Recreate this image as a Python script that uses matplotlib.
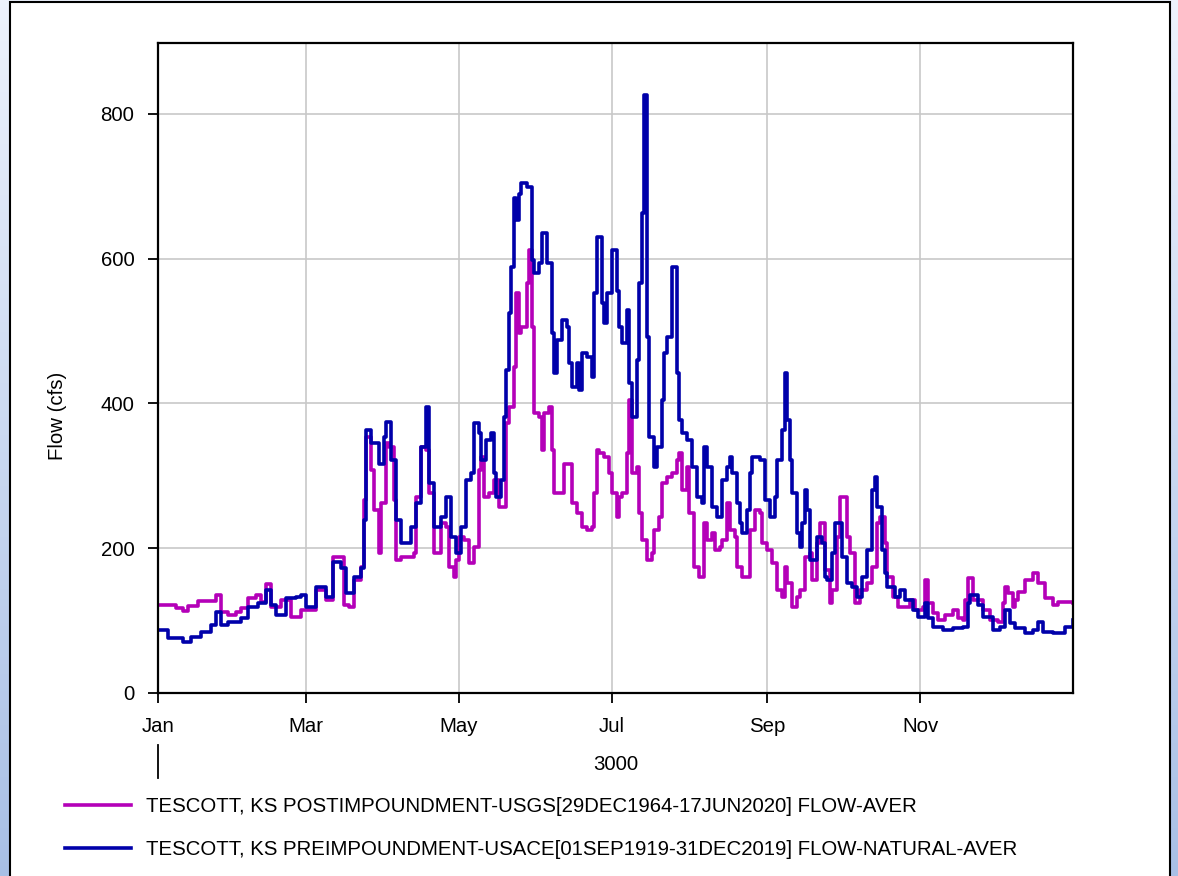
import datetime as dt
import numpy as np
import matplotlib
matplotlib.use("Agg")
import matplotlib.pyplot as plt
import matplotlib.dates as mdates
from matplotlib.patches import Rectangle
from matplotlib.lines import Line2D

plt.rcParams['font.family'] = ['Liberation Sans', 'DejaVu Sans']

# daily average flow, stored as (day of year, cfs) change points
post_days = [0, 4, 7, 10, 12, 16, 20, 23, 25, 28, 31, 33, 36, 39, 41, 43, 45, 49, 53, 57,
             63, 67, 70, 74, 76, 78, 81, 82, 83, 85, 86, 88, 89, 91, 92, 94, 95, 97, 102, 103,
             105, 107, 108, 110, 113, 115, 116, 118, 119, 120, 122, 124, 126, 128, 129, 130, 132, 134, 136, 139,
             140, 142, 143, 144, 145, 147, 148, 149, 150, 152, 153, 154, 156, 157, 158, 162, 165, 167, 169, 171,
             173, 174, 175, 176, 178, 180, 181, 183, 184, 185, 187, 188, 189, 191, 192, 193, 195, 197, 198, 200,
             201, 203, 205, 207, 208, 209, 211, 212, 214, 216, 218, 219, 221, 222, 224, 225, 227, 228, 230, 231,
             233, 236, 238, 240, 241, 243, 245, 247, 249, 250, 251, 253, 255, 256, 258, 260, 261, 263, 264, 266,
             268, 269, 271, 272, 275, 276, 278, 280, 283, 285, 287, 288, 290, 291, 293, 295, 300, 302, 305, 306,
             307, 309, 311, 314, 317, 319, 321, 322, 323, 325, 329, 332, 335, 337, 338, 339, 341, 342, 343, 346,
             349, 351, 354, 357, 359, 365]
post_flow = [122, 121, 117, 113, 120, 127, 127, 135, 112, 108, 112, 117, 131, 135, 126, 150, 119, 128, 105, 115,
             142, 128, 188, 122, 119, 156, 174, 267, 354, 308, 253, 193, 262, 345, 340, 267, 184, 188, 193, 271,
             340, 336, 276, 193, 235, 230, 174, 160, 184, 215, 211, 180, 202, 308, 326, 271, 276, 294, 257, 373,
             395, 450, 552, 497, 506, 566, 612, 506, 387, 381, 336, 387, 395, 336, 276, 317, 262, 248, 230, 225,
             230, 276, 336, 331, 326, 304, 276, 243, 271, 276, 331, 405, 304, 312, 248, 211, 184, 193, 225, 243,
             290, 298, 304, 322, 331, 280, 312, 248, 174, 160, 235, 211, 221, 197, 202, 211, 262, 225, 215, 174,
             160, 225, 253, 248, 207, 197, 180, 142, 133, 174, 152, 119, 133, 142, 188, 193, 156, 207, 235, 170,
             124, 142, 215, 271, 215, 193, 124, 142, 152, 174, 235, 243, 207, 160, 133, 119, 128, 115, 119, 156,
             124, 110, 101, 108, 115, 104, 101, 128, 159, 128, 115, 101, 98, 124, 146, 138, 119, 128, 140, 156,
             166, 152, 131, 122, 126, 124]

pre_days = [0, 4, 10, 13, 17, 21, 23, 25, 28, 33, 36, 40, 43, 45, 47, 51, 55, 57, 59, 63,
            67, 70, 73, 75, 78, 81, 82, 83, 85, 88, 90, 91, 93, 95, 97, 101, 103, 105, 107, 108,
            110, 113, 115, 117, 119, 121, 123, 125, 126, 128, 129, 131, 133, 134, 135, 137, 138, 139, 140, 141,
            142, 143, 144, 145, 147, 149, 150, 152, 153, 155, 157, 158, 159, 161, 163, 164, 165, 167, 168, 169,
            171, 173, 174, 175, 177, 178, 179, 181, 183, 184, 185, 187, 188, 189, 191, 192, 193, 194, 195, 196,
            198, 199, 201, 202, 203, 205, 207, 208, 209, 211, 213, 215, 217, 218, 219, 221, 223, 225, 227, 228,
            229, 231, 232, 233, 235, 236, 237, 240, 242, 244, 246, 247, 249, 250, 251, 252, 253, 255, 256, 257,
            258, 259, 260, 263, 265, 266, 267, 269, 270, 273, 275, 277, 279, 281, 283, 285, 286, 287, 289, 290,
            291, 294, 296, 298, 301, 303, 306, 307, 309, 313, 317, 321, 323, 324, 327, 329, 333, 336, 338, 340,
            342, 346, 349, 351, 353, 357, 362, 365]
pre_flow = [87, 76, 70, 77, 84, 94, 112, 94, 98, 103, 119, 124, 142, 122, 108, 131, 133, 135, 119, 146,
            133, 181, 173, 138, 160, 173, 239, 363, 345, 317, 354, 374, 322, 239, 207, 230, 262, 340, 395, 290,
            230, 243, 271, 215, 193, 230, 294, 304, 373, 359, 322, 349, 359, 304, 271, 294, 381, 446, 525, 588,
            684, 653, 690, 704, 699, 598, 580, 594, 635, 594, 497, 442, 488, 515, 506, 456, 423, 456, 418, 470,
            464, 437, 552, 630, 539, 511, 552, 612, 556, 506, 483, 529, 428, 381, 460, 566, 663, 826, 492, 354,
            312, 340, 405, 470, 492, 588, 442, 377, 359, 349, 312, 271, 262, 340, 312, 257, 243, 294, 312, 326,
            304, 262, 235, 221, 253, 304, 326, 322, 267, 243, 271, 322, 363, 442, 377, 322, 276, 221, 202, 235,
            280, 253, 184, 215, 207, 160, 156, 193, 235, 188, 152, 146, 133, 160, 197, 280, 298, 257, 197, 166,
            146, 133, 142, 128, 115, 105, 124, 104, 91, 87, 90, 91, 124, 135, 122, 105, 87, 91, 115, 97,
            90, 83, 87, 98, 84, 83, 91, 101]

post_label = "TESCOTT, KS POSTIMPOUNDMENT-USGS[29DEC1964-17JUN2020] FLOW-AVER"
pre_label = "TESCOTT, KS PREIMPOUNDMENT-USACE[01SEP1919-31DEC2019] FLOW-NATURAL-AVER"
tick_months = [1, 3, 5, 7, 9, 11]
y_ticks = [0, 200, 400, 600, 800]

start = dt.datetime(3000, 1, 1)
end = dt.datetime(3001, 1, 1)
post_dates = [start + dt.timedelta(days=d) for d in post_days]
pre_dates = [start + dt.timedelta(days=d) for d in pre_days]

fs = 14.7
fig = plt.figure(figsize=(11.78, 8.76), dpi=100)

# pale blue window backdrop behind the white panel
bg = fig.add_axes([0, 0, 1, 1], zorder=-10)
grad = np.linspace(0, 1, 256)[:, None]
top_c = np.array([0.93, 0.95, 0.99])
bot_c = np.array([0.66, 0.75, 0.90])
bg.imshow(top_c + (bot_c - top_c) * grad[:, :, None], aspect='auto', extent=[0, 1, 0, 1])
bg.axis('off')
fig.add_artist(Rectangle((10 / 1178, -0.02), 1160 / 1178, 1.02 - 2 / 876,
                         transform=fig.transFigure, facecolor='white', edgecolor='black',
                         linewidth=1.5, zorder=-5))

ax = fig.add_axes([158 / 1178, 1 - 693 / 876, 915 / 1178, 650 / 876])
ax.plot(post_dates, post_flow, drawstyle='steps-post', color='#b400b8', lw=2.6, label=post_label)
ax.plot(pre_dates, pre_flow, drawstyle='steps-post', color='#0000aa', lw=2.6, label=pre_label)

ax.set_xlim(start, end)
ax.set_ylim(0, 898)
ax.set_xticks([dt.datetime(3000, m, 1) for m in tick_months])
ax.xaxis.set_major_formatter(mdates.DateFormatter('%b'))
ax.set_yticks(y_ticks)
ax.grid(True, color='#c8c8c8', linewidth=1.2)
ax.set_axisbelow(True)
for s in ax.spines.values():
    s.set_linewidth(1.6)
    s.set_color('black')
ax.tick_params(axis='both', direction='out', length=7, width=1.3, labelsize=fs, pad=10)

ax.set_xlabel('3000', fontsize=fs, labelpad=14)
ax.set_ylabel('Flow (cfs)', fontsize=fs)
ax.yaxis.set_label_coords(-0.099, 0.426)

# year divider below the first month label
ax.add_line(Line2D([0, 0], [-0.08, -0.13], transform=ax.transAxes, color='black',
                   lw=1.3, clip_on=False))

fig.legend(loc='upper left', bbox_to_anchor=(47 / 1178, 1 - 779 / 876), frameon=False,
           fontsize=fs, handlelength=3.2, handletextpad=0.73, labelspacing=1.16)

fig.savefig('out.png', dpi=100)
